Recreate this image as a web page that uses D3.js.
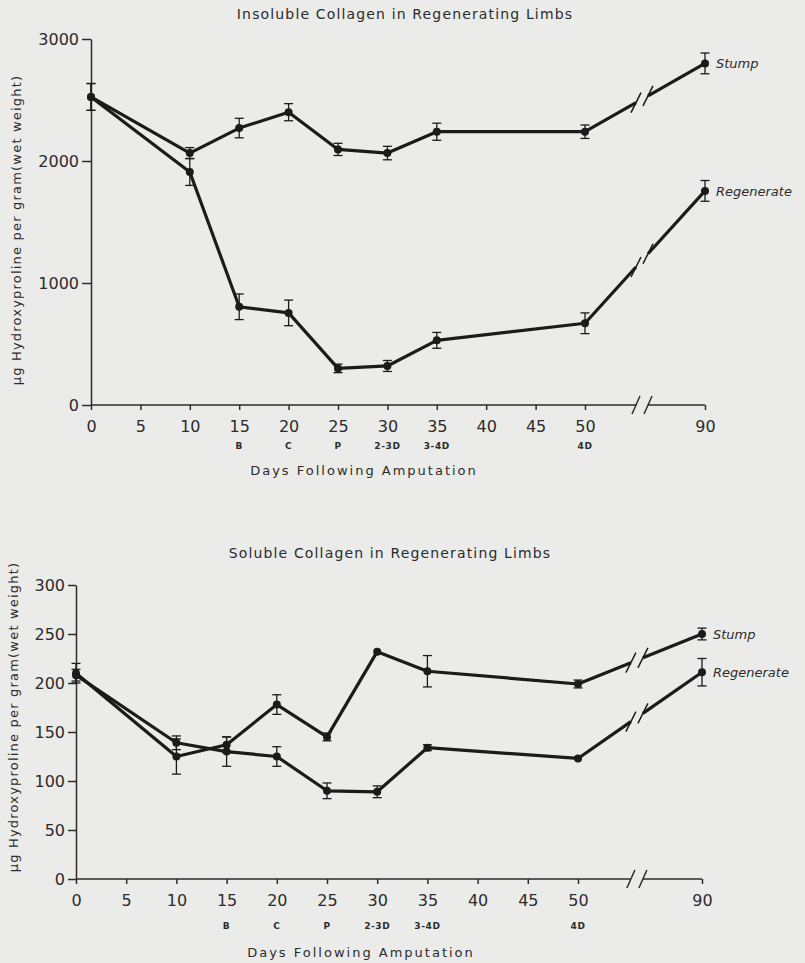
<!DOCTYPE html>
<html>
<head>
<meta charset="utf-8">
<script src="https://cdn.jsdelivr.net/npm/d3@7"></script>
<style>
  body { margin: 0; background: #ebebe9; }
  svg { display: block; }
  text { font-family: 'DejaVu Sans', sans-serif; fill: #2c2c2c; }
  .title { font-size: 14px; letter-spacing: 1.15px; }
  .axis text { font-size: 16px; }
  .axis path, .axis line { stroke: #2c2c2c; stroke-width: 1.5px; }
  .stage { font-size: 9px; font-weight: bold; letter-spacing: 0.6px; }
  .axis-title { font-size: 13px; letter-spacing: 2px; }
  .y-title { font-size: 13px; letter-spacing: 1.2px; }
  .series-label { font-size: 13px; font-style: italic; }
  .line { fill: none; stroke: #1b1b1b; stroke-width: 3.2px; stroke-linejoin: round; }
  .err { stroke: #1b1b1b; stroke-width: 1.3px; }
  .slash { stroke: #1b1b1b; stroke-width: 1.5px; }
</style>
</head>
<body>
<svg id="chart" width="805" height="963"></svg>
<script>
'use strict';

// shared x values
var days = [0, 10, 15, 20, 25, 30, 35, 50, 90];
var xTicks = [0, 5, 10, 15, 20, 25, 30, 35, 40, 45, 50, 90];
var stageDays = [15, 20, 25, 30, 35, 50];
var stageNames = ['B', 'C', 'P', '2-3D', '3-4D', '4D'];
var breakDay = 69;

// insoluble collagen (top)
var insolubleTicks = [0, 1000, 2000, 3000];
var insolubleStump = [2525, 2065, 2270, 2400, 2095, 2065, 2240, 2240, 2800];
var insolubleStumpErr = [110, 45, 80, 70, 50, 55, 70, 55, 85];
var insolubleRegen = [2525, 1910, 805, 755, 300, 320, 530, 670, 1755];
var insolubleRegenErr = [110, 110, 105, 105, 35, 45, 65, 85, 85];

// soluble collagen (bottom)
var solubleTicks = [0, 50, 100, 150, 200, 250, 300];
var solubleStump = [210, 125, 137, 178, 145, 232, 212, 199, 250];
var solubleStumpErr = [10, 18, 8, 10, 4, 0, 16, 4, 6];
var solubleRegen = [208, 139, 130, 125, 90, 89, 134, 123, 211];
var solubleRegenErr = [6, 7, 15, 10, 8, 6, 3, 0, 14];

var yTitle = '\u03bcg Hydroxyproline per gram(wet weight)';
var xTitle = 'Days Following Amputation';

var svg = d3.select('#chart');

function drawPanel(cfg) {
  var x = d3.scaleLinear().domain([0, 50, 90]).range(cfg.xRange);
  var y = d3.scaleLinear().domain([0, d3.max(cfg.yTicks)]).range(cfg.yRange);
  var g = svg.append('g');
  var x0 = cfg.xRange[0], yBase = cfg.yRange[0];
  var bx = x(breakDay), gap = 6;

  // title
  g.append('text')
    .attr('class', 'title')
    .attr('x', cfg.titleX)
    .attr('y', cfg.titleY)
    .attr('text-anchor', 'middle')
    .text(cfg.title);

  // y axis
  g.append('g')
    .attr('class', 'axis')
    .attr('transform', 'translate(' + x0 + ',0)')
    .call(d3.axisLeft(y)
      .tickValues(cfg.yTicks)
      .tickFormat(d3.format('d'))
      .tickSize(cfg.yTickSize)
      .tickSizeOuter(0)
      .tickPadding(3));

  // x axis, domain redrawn with the break
  var xAxis = g.append('g')
    .attr('class', 'axis')
    .attr('transform', 'translate(0,' + yBase + ')')
    .call(d3.axisBottom(x)
      .tickValues(xTicks)
      .tickSize(5)
      .tickPadding(11));
  xAxis.select('.domain').remove();
  xAxis.append('path')
    .attr('d', 'M' + x0 + ',0H' + (bx - gap) + 'M' + (bx + gap) + ',0H' + x(90))
    .attr('fill', 'none');
  [bx - gap, bx + gap].forEach(function (sx) {
    xAxis.append('line')
      .attr('x1', sx - 4).attr('y1', 9)
      .attr('x2', sx + 4).attr('y2', -9);
  });

  // stage letters under the ticks
  g.selectAll('.stage')
    .data(stageDays)
    .enter()
    .append('text')
    .attr('class', 'stage')
    .attr('x', function (d) { return x(d); })
    .attr('y', yBase + cfg.stageDy)
    .attr('text-anchor', 'middle')
    .text(function (d, i) { return stageNames[i]; });

  g.append('text')
    .attr('class', 'axis-title')
    .attr('x', cfg.xTitleX)
    .attr('y', yBase + cfg.xTitleDy)
    .attr('text-anchor', 'middle')
    .text(xTitle);

  g.append('text')
    .attr('class', 'y-title')
    .attr('text-anchor', 'middle')
    .attr('transform', 'translate(' + cfg.yTitleX + ',' + cfg.yTitleY + ')rotate(-90)')
    .text(yTitle);

  cfg.series.forEach(function (s) {
    var pts = days.map(function (d, i) {
      return {x: x(d), y: y(s.values[i]), top: y(s.values[i] + s.err[i]), bot: y(s.values[i] - s.err[i])};
    });
    var n = pts.length;
    var p = pts[n - 2], q = pts[n - 1];
    var at = function (px) { return p.y + (q.y - p.y) * (px - p.x) / (q.x - p.x); };
    var a = {x: bx - gap, y: at(bx - gap)}, b = {x: bx + gap, y: at(bx + gap)};
    var line = d3.line().x(function (d) { return d.x; }).y(function (d) { return d.y; });

    g.append('path').attr('class', 'line').attr('d', line(pts.slice(0, n - 1).concat([a])));
    g.append('path').attr('class', 'line').attr('d', line([b, q]));
    [a, b].forEach(function (c) {
      g.append('line')
        .attr('class', 'slash')
        .attr('x1', c.x - 5).attr('y1', c.y + 10)
        .attr('x2', c.x + 5).attr('y2', c.y - 10);
    });

    // error bars
    var eb = g.selectAll(null).data(pts.filter(function (d) { return d.bot - d.top > 1; })).enter().append('g');
    eb.append('line').attr('class', 'err')
      .attr('x1', function (d) { return d.x; }).attr('x2', function (d) { return d.x; })
      .attr('y1', function (d) { return d.top; }).attr('y2', function (d) { return d.bot; });
    eb.append('line').attr('class', 'err')
      .attr('x1', function (d) { return d.x - 4.5; }).attr('x2', function (d) { return d.x + 4.5; })
      .attr('y1', function (d) { return d.top; }).attr('y2', function (d) { return d.top; });
    eb.append('line').attr('class', 'err')
      .attr('x1', function (d) { return d.x - 4.5; }).attr('x2', function (d) { return d.x + 4.5; })
      .attr('y1', function (d) { return d.bot; }).attr('y2', function (d) { return d.bot; });

    g.selectAll(null)
      .data(pts)
      .enter()
      .append('circle')
      .attr('cx', function (d) { return d.x; })
      .attr('cy', function (d) { return d.y; })
      .attr('r', 4)
      .attr('fill', '#1b1b1b');

    g.append('text')
      .attr('class', 'series-label')
      .attr('x', q.x + 11)
      .attr('y', q.y + 5)
      .text(s.name);
  });
}

drawPanel({
  title: 'Insoluble Collagen in Regenerating Limbs',
  titleX: 405, titleY: 19,
  xRange: [91, 585, 705],
  yRange: [405, 39],
  yTicks: insolubleTicks,
  yTickSize: 9,
  stageDy: 44, xTitleX: 364, xTitleDy: 70,
  yTitleX: 21, yTitleY: 230,
  series: [
    {name: 'Stump', values: insolubleStump, err: insolubleStumpErr},
    {name: 'Regenerate', values: insolubleRegen, err: insolubleRegenErr}
  ]
});

drawPanel({
  title: 'Soluble Collagen in Regenerating Limbs',
  titleX: 390, titleY: 558,
  xRange: [76, 578, 702],
  yRange: [879, 585],
  yTicks: solubleTicks,
  yTickSize: 8,
  stageDy: 50, xTitleX: 361, xTitleDy: 78,
  yTitleX: 18, yTitleY: 717,
  series: [
    {name: 'Stump', values: solubleStump, err: solubleStumpErr},
    {name: 'Regenerate', values: solubleRegen, err: solubleRegenErr}
  ]
});
</script>
</body>
</html>
